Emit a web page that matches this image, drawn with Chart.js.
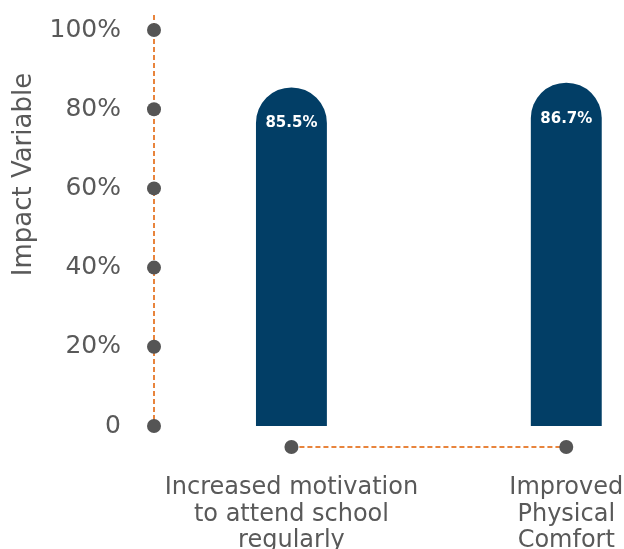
<!DOCTYPE html>
<html>
<head>
<meta charset="utf-8">
<script src="https://cdn.jsdelivr.net/npm/chart.js@4"></script>
<style>
  html, body { margin: 0; padding: 0; background: #ffffff; }
  #wrap { width: 624px; height: 549px; position: relative; }
</style>
</head>
<body>
<div id="wrap"><canvas id="c"></canvas></div>
<script>
// ---- data ----
const categories = [
  ['Increased motivation', 'to attend school', 'regularly'],
  ['Improved', 'Physical', 'Comfort']
];
const categoryPositions = [0, 1];
const values = [85.5, 86.7];
const valueLabels = ['85.5%', '86.7%'];
const yTickValues = [0, 20, 40, 60, 80, 100];
const yTickLabels = ['0', '20%', '40%', '60%', '80%', '100%'];
const yAxisTitle = 'Impact Variable';

// ---- styles ----
const BAR_COLOR = '#023e66';
const TEXT_COLOR = '#595959';
const DOT_COLOR = '#555555';
const DASH_COLOR = '#e8843c';
const FONT = '"DejaVu Sans", sans-serif';

const axisDecor = {
  id: 'axisDecor',
  beforeDatasetsDraw(chart) {
    const { ctx, chartArea, scales } = chart;
    const x = scales.x, y = scales.y;
    const axisX = chartArea.left;
    const axisY = chartArea.bottom + 21;
    ctx.save();
    ctx.strokeStyle = DASH_COLOR;
    ctx.lineWidth = 2;
    ctx.setLineDash([5, 3]);
    ctx.beginPath();
    ctx.moveTo(axisX, y.getPixelForValue(yTickValues[yTickValues.length - 1]) - 15);
    ctx.lineTo(axisX, y.getPixelForValue(yTickValues[0]));
    ctx.stroke();
    ctx.beginPath();
    ctx.moveTo(x.getPixelForValue(categoryPositions[0]), axisY);
    ctx.lineTo(x.getPixelForValue(categoryPositions[categoryPositions.length - 1]), axisY);
    ctx.stroke();
    ctx.setLineDash([]);
    ctx.fillStyle = DOT_COLOR;
    yTickValues.forEach(v => {
      ctx.beginPath();
      ctx.arc(axisX, y.getPixelForValue(v), 7, 0, Math.PI * 2);
      ctx.fill();
    });
    categoryPositions.forEach(p => {
      ctx.beginPath();
      ctx.arc(x.getPixelForValue(p), axisY, 7, 0, Math.PI * 2);
      ctx.fill();
    });
    const cy = chartArea.top + (chartArea.bottom - chartArea.top) * 0.365;
    ctx.translate(24, cy);
    ctx.rotate(-Math.PI / 2);
    ctx.fillStyle = TEXT_COLOR;
    ctx.font = '26px ' + FONT;
    ctx.textAlign = 'center';
    ctx.textBaseline = 'middle';
    ctx.fillText(yAxisTitle, 0, 0);
    ctx.restore();
  },
  afterDatasetsDraw(chart) {
    const { ctx } = chart;
    const meta = chart.getDatasetMeta(0);
    ctx.save();
    ctx.fillStyle = '#ffffff';
    ctx.font = 'bold 15px "DejaVu Sans", sans-serif';
    ctx.textAlign = 'center';
    ctx.textBaseline = 'middle';
    meta.data.forEach((bar, i) => {
      ctx.fillText(valueLabels[i], bar.x, bar.y + 36);
    });
    ctx.restore();
  }
};

new Chart(document.getElementById('c'), {
  type: 'bar',
  data: {
    datasets: [{
      data: categoryPositions.map((p, i) => ({ x: p, y: values[i] })),
      backgroundColor: BAR_COLOR,
      borderRadius: { topLeft: 36, topRight: 36, bottomLeft: 0, bottomRight: 0 },
      borderSkipped: 'bottom',
      categoryPercentage: 1,
      barPercentage: 0.258
    }]
  },
  options: {
    responsive: true,
    maintainAspectRatio: false,
    animation: false,
    layout: { padding: { top: 30, left: 0, right: 0, bottom: 0 } },
    plugins: { legend: { display: false }, tooltip: { enabled: false } },
    scales: {
      x: {
        type: 'linear',
        offset: false,
        min: -0.5,
        max: 1.21,
        grid: { display: false, drawTicks: false },
        border: { display: false },
        afterBuildTicks(scale) { scale.ticks = categoryPositions.map(v => ({ value: v })); },
        afterFit(scale) {
          scale.paddingLeft = 0; scale.paddingRight = 0;
          scale.paddingTop = 0; scale.paddingBottom = 0;
          scale.height = 123;
        },
        ticks: {
          padding: 48,
          maxRotation: 0,
          minRotation: 0,
          autoSkip: false,
          color: TEXT_COLOR,
          font: { family: FONT, size: 24, lineHeight: 1.12 },
          callback(v) { const i = categoryPositions.indexOf(v); return i >= 0 ? categories[i] : ''; }
        }
      },
      y: {
        min: 0,
        max: 100,
        grid: { display: false, drawTicks: false },
        border: { display: false },
        afterBuildTicks(scale) { scale.ticks = yTickValues.map(v => ({ value: v })); },
        afterFit(scale) {
          scale.width = 154;
          scale.paddingTop = 0; scale.paddingBottom = 0;
        },
        ticks: {
          padding: 33,
          color: TEXT_COLOR,
          font: { family: FONT, size: 25 },
          callback(v) { const i = yTickValues.indexOf(v); return i >= 0 ? yTickLabels[i] : ''; }
        }
      }
    }
  },
  plugins: [axisDecor]
});
</script>
</body>
</html>
